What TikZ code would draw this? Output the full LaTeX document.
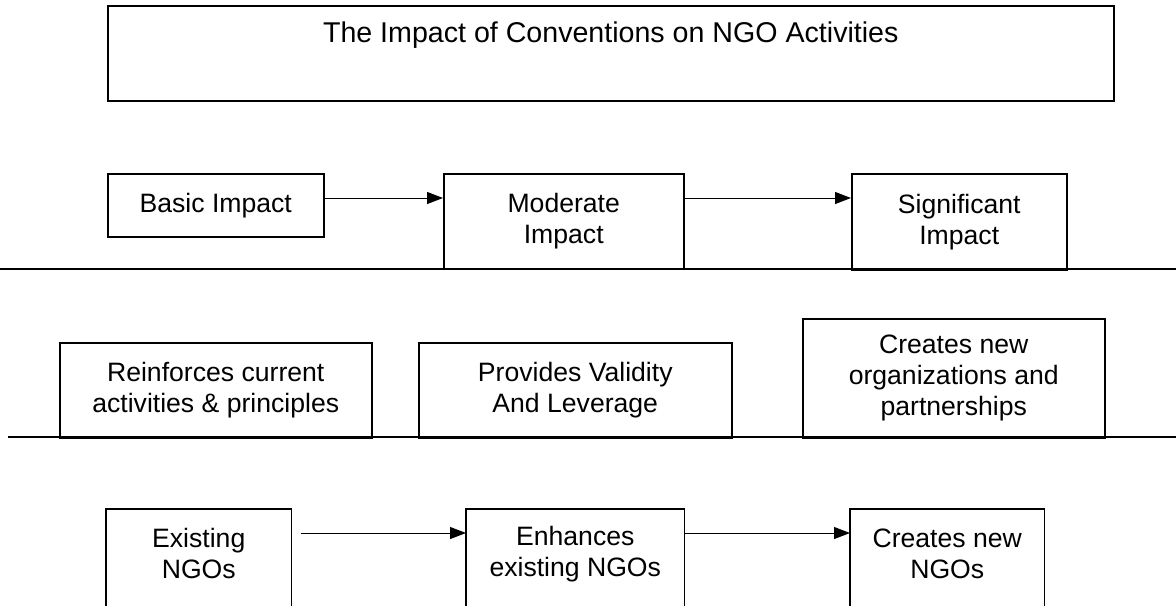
\documentclass[tikz,border=0pt]{standalone}
\usepackage{fontspec}
\setmainfont{Liberation Sans}
\usetikzlibrary{arrows.meta}

\tikzset{
  box/.style={draw,line width=0.75pt,anchor=north west,align=center,inner sep=0pt,
    font=\fontsize{13.3}{15.5}\selectfont},
  open/.style={box,draw=none,minimum height=44pt},
  edge/.style={line width=0.75pt},
  rule/.style={line width=0.8pt},
  flow/.style={->,>={Triangle[length=8pt,width=6pt]},line width=0.5pt},
}

\begin{document}
\begin{tikzpicture}[x=0.5pt,y=-0.5pt]
\useasboundingbox (0,0) rectangle (1176,605);

% heading
\node[box,font=\fontsize{14.3}{17}\selectfont,minimum width=503pt,text height=18.5pt,text depth=29pt] (title) at (107,5) {The Impact of Conventions on NGO Activities};

% impact levels
\node[box,minimum width=108pt,minimum height=31.5pt] (basic) at (107,173) {Basic Impact};
\node[box,minimum width=120pt,minimum height=47.5pt] (moderate) at (443,173) {Moderate\\Impact};
\node[box,minimum width=107.5pt,minimum height=48pt] (significant) at (851,173) {Significant\\Impact};
\coordinate (top) at (0,198);
\draw[flow] (basic.east |- top) -- (moderate.west |- top);
\draw[flow] (moderate.east |- top) -- (significant.west |- top);
\draw[rule] (0,269) -- (1176,269);

% what they do
\node[box,minimum width=156pt,minimum height=47.5pt] (reinforce) at (59,342) {Reinforces current\\activities \& principles};
\node[box,minimum width=156.5pt,minimum height=47.5pt] (validity) at (418,342) {Provides Validity\\And Leverage};
\node[box,minimum width=151pt,minimum height=59.5pt] (partners) at (802,318) {Creates new\\organizations and\\partnerships};
\draw[rule] (8,437) -- (1176,437);

% effect on NGOs
\node[open,minimum width=92pt] (existing) at (106,509) {Existing\\NGOs};
\node[open,minimum width=108.5pt] (enhance) at (466,509) {Enhances\\existing NGOs};
\node[open,minimum width=96.5pt] (newngo) at (850,509) {Creates new\\NGOs};
\foreach \n in {existing,enhance,newngo}
  \draw[edge] ([yshift=-30pt]\n.south west) |- (\n.north east) -- ([yshift=-30pt]\n.south east); % open at the bottom
\coordinate (low) at (0,533);
\draw[flow] (existing.east |- low) ++(9,0) -- (enhance.west |- low);
\draw[flow] (enhance.east |- low) -- (newngo.west |- low);
\end{tikzpicture}
\end{document}
